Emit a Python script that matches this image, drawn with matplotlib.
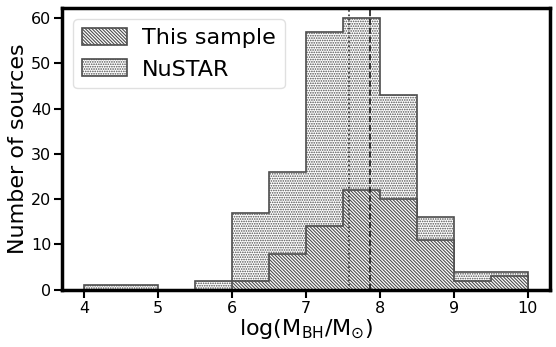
import matplotlib.pyplot as plt
import numpy as np

plt.rcParams['hatch.linewidth'] = 0.8
plt.rcParams['hatch.color'] = '0.15'

# bin edges of the log(M_BH) histograms
bin_edges = [4.0, 4.5, 5.0, 5.5, 6.0, 6.5, 7.0, 7.5, 8.0, 8.5, 9.0, 9.5, 10.0]
nustar_counts = [1, 1, 0, 2, 17, 26, 57, 60, 43, 16, 4, 4]
sample_counts = [0, 0, 0, 0, 2, 8, 14, 22, 20, 11, 2, 3]

nustar_median = 7.58
sample_median = 7.86

fig, ax = plt.subplots(figsize=(5.56, 3.47), dpi=100)

left = np.array(bin_edges[:-1])
ax.hist(left, bins=bin_edges, weights=nustar_counts, histtype='stepfilled',
        facecolor='white', edgecolor='0.3', hatch='.' * 7, lw=1.2,
        label='NuSTAR')
ax.hist(left, bins=bin_edges, weights=sample_counts, histtype='stepfilled',
        facecolor='white', edgecolor='0.3', hatch='\\' * 10, lw=1.2,
        label='This sample')

ax.axvline(nustar_median, color='0.2', ls=':', lw=1.2)
ax.axvline(sample_median, color='0.1', ls='--', lw=1.2)

ax.set_xlim(3.7, 10.31)
ax.set_ylim(0, 62.2)
ax.set_xticks([4, 5, 6, 7, 8, 9, 10])
ax.set_yticks([0, 10, 20, 30, 40, 50, 60])
ax.tick_params(labelsize=11.5, length=6, width=1.5, pad=2)
for s in ax.spines.values():
    s.set_linewidth(2.5)

ax.set_xlabel(r'log(M$_{\rm BH}$/M$_{\odot}$)', fontsize=16, labelpad=1)
ax.set_ylabel('Number of sources', fontsize=16, labelpad=2)

h, l = ax.get_legend_handles_labels()
ax.legend(h[::-1], l[::-1], loc='upper left', fontsize=16,
          handlelength=2.0, handleheight=0.8, handletextpad=0.7,
          edgecolor='0.85', borderaxespad=0.5)

fig.subplots_adjust(left=0.112, right=0.99, top=0.977, bottom=0.165)
fig.savefig('out.png', dpi=100)
